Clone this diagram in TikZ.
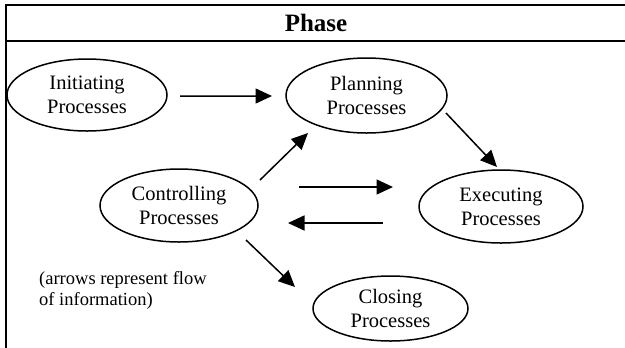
\documentclass[tikz,border=0pt]{standalone}
\usepackage{fontspec}
\setmainfont{Liberation Serif}
\usetikzlibrary{shapes.geometric,arrows.meta}
\begin{document}
\begin{tikzpicture}[x=1bp,y=-1bp,
  proc/.style={draw,ellipse,line width=1.5bp,inner sep=0pt,align=center,
    font=\fontsize{20.5bp}{24.3bp}\selectfont},
  arr/.style={line width=1.5bp,-{Triangle[length=16.5bp,width=15bp]}},
  frame/.style={line width=1.7bp},
  note/.style={align=left,anchor=north west,inner sep=0pt,
    font=\fontsize{18.5bp}{21.7bp}\selectfont}]
\useasboundingbox (0,0) rectangle (625,347);
\draw[frame] (6,348) -- (6,5) -- (626,5);
\draw[frame] (6,41) -- (626,41);
\node[font=\fontsize{25bp}{28bp}\selectfont\bfseries] (title) at (316,23) {Phase};

\node[proc,minimum width=160bp,minimum height=72bp] (init) at (87,95) {Initiating\\Processes};
\node[proc,minimum width=161bp,minimum height=75bp] (plan) at (366.5,95.5) {Planning\\Processes};
\node[proc,minimum width=164bp,minimum height=73bp] (exec) at (501,206.5) {Executing\\Processes};
\node[proc,minimum width=158bp,minimum height=73bp] (ctrl) at (179,205.5) {Controlling\\Processes};
\node[proc,minimum width=155bp,minimum height=65bp] (close) at (390.5,308.5) {Closing\\Processes};

\node[note] (info) at (39,271) {(arrows represent flow\\of information)};

\draw[arr] ([shift={(93,1)}]init.center) -- ([shift={(-94.5,0.5)}]plan.center);
\draw[arr] ([shift={(79.5,17.5)}]plan.center) -- ([shift={(-4,-39.5)}]exec.center);
\draw[arr] ([shift={(81,-25.5)}]ctrl.center) -- ([shift={(-58.5,37.5)}]plan.center);
\draw[arr] ([shift={(120,-18.5)}]ctrl.center) -- ([shift={(-108,-19.5)}]exec.center);
\draw[arr] ([shift={(-118,16.5)}]exec.center) -- ([shift={(109,17.5)}]ctrl.center);
\draw[arr] ([shift={(67,34.5)}]ctrl.center) -- ([shift={(-95.5,-21.5)}]close.center);
\end{tikzpicture}
\end{document}
